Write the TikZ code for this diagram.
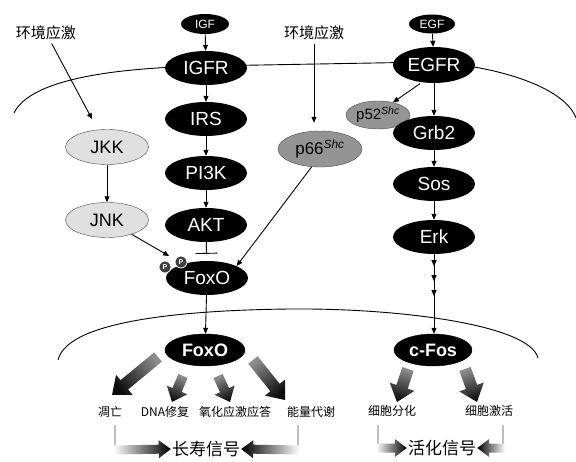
\documentclass[tikz,border=0pt]{standalone}
\usepackage{fontspec}
\setmainfont{Liberation Sans}
\newfontfamily\cjk{Noto Sans CJK SC}
\usetikzlibrary{shapes.geometric,arrows.meta,decorations.markings,calc}
% #1 shade options, #2 name, #3 tail, #4 tip, #5 body half width, #6 head half width, #7 head length
\newcommand\fatar[7]{%
  \coordinate (#2-t) at #3;
  \coordinate (#2-h) at #4;
  \coordinate (#2-q) at ($(#2-h)!#7!(#2-t)$);
  \path let \p1=($(#2-h)-(#2-t)$) in \pgfextra{\pgfmathsetmacro\fatang{atan2(\y1,\x1)+90}\global\let\fatang\fatang};
  \path[#1, shading angle=\fatang] ($(#2-t)!#5!90:(#2-h)$) -- ($(#2-q)!#5!90:(#2-h)$) -- ($(#2-q)!#6!90:(#2-h)$) -- (#2-h)
     -- ($(#2-q)!#6!-90:(#2-h)$) -- ($(#2-q)!#5!-90:(#2-h)$) -- ($(#2-t)!#5!-90:(#2-h)$) -- cycle;}
\begin{document}
\begin{tikzpicture}[x=1pt,y=-1pt,
  blk/.style={ellipse, fill=black, text=white, minimum width=82pt, minimum height=34pt, inner sep=0pt, font=\fontsize{19}{19}\selectfont},
  lgt/.style={ellipse, draw=black!70, fill=black!12, text=black, minimum width=83pt, minimum height=35pt, inner sep=0pt, font=\fontsize{18}{18}\selectfont},
  gry/.style={ellipse, draw=black!70, fill=black!42, text=black, inner sep=0pt, font=\fontsize{17}{17}\selectfont},
  nuc/.style={ellipse, draw=black, top color=black, middle color=black!30, bottom color=black, text=white, minimum width=80pt, minimum height=32pt, inner sep=0pt, font=\bfseries\fontsize{18}{18}\selectfont},
  arr/.style={-{Triangle[length=6pt,width=5pt]}, line width=0.9pt},
  fatshade/.style={left color=black!45, right color=black!95},
  brkshade/.style={left color=white, right color=black},
  zh/.style={font=\cjk\fontsize{12}{12}\selectfont, inner sep=1pt},
  zhb/.style={font=\cjk\fontsize{17}{17}\selectfont, inner sep=1pt},
  pcirc/.style={circle, draw=white, line width=0.8pt, fill=black!75, text=white, inner sep=0pt, minimum size=12pt, font=\bfseries\fontsize{7}{7}\selectfont}
]
\fill[white] (0,0) rectangle (576,462);
\useasboundingbox (0,0) rectangle (576,462);

% membranes
\draw[line width=0.9pt] (14,113) .. controls (30,80) and (110,68) .. (205,66) -- (430,62) .. controls (500,66) and (565,88) .. (576,118);
\draw[line width=0.9pt] (58,360) .. controls (68,318) and (200,310) .. (290,309) .. controls (400,308) and (530,325) .. (538,358);

% IGF pathway
\node[blk, minimum width=48pt, minimum height=20pt, font=\fontsize{12}{12}\selectfont] (igf) at (205,24) {IGF};
\node[blk] (igfr) at (206,68) {IGFR};
\node[blk] (irs) at (206,119) {IRS};
\node[blk] (pik) at (206,173) {PI3K};
\node[blk] (akt) at (206,225) {AKT};
\node[blk] (foxo) at (207,278) {FoxO};

% JNK branch
\node[font=\cjk\fontsize{15}{15}\selectfont] (env1) at (46,33) {环境应激};
\node[lgt] (jkk) at (107,147) {JKK};
\node[lgt] (jnk) at (107,220) {JNK};

% p66
\node[font=\cjk\fontsize{15}{15}\selectfont] (env2) at (314,33) {环境应激};
\node[gry, minimum width=84pt, minimum height=36pt] (p66) at (320,149) {p66\textsuperscript{\itshape Shc}};

% EGF pathway
\node[blk, minimum width=46pt, minimum height=19pt, font=\fontsize{12}{12}\selectfont] (egf) at (432,24) {EGF};
\node[blk, minimum height=36pt] (egfr) at (434,65) {EGFR};
\node[gry, minimum width=64pt, minimum height=28pt, font=\fontsize{15}{15}\selectfont] (p52) at (378,115) {p52\textsuperscript{\itshape Shc}};
\node[blk] (grb) at (434,133) {Grb2};
\node[blk] (sos) at (434,184) {Sos};
\node[blk] (erk) at (434,237) {Erk};

% nucleus
\node[nuc] (nfoxo) at (205,350) {FoxO};
\node[nuc, minimum width=78pt] (cfos) at (433,350) {c-Fos};

% P circles
\node[pcirc] (p1) at (165,267) {P};
\node[pcirc] (p2) at (181,262) {P};

% connectors
\draw[arr] (igf) -- (igfr);
\draw[arr] (igfr) -- (irs);
\draw[arr] (irs) -- (pik);
\draw[arr] (pik) -- (akt);
\draw[line width=0.9pt, -{Bar[width=22pt]}, shorten >=7pt] (akt) -- (foxo);
\draw[arr, shorten >=12pt] (env1) -- (jkk);
\draw[arr] (jkk) -- (jnk);
\draw[arr, shorten >=16pt] (jnk) -- (foxo);
\draw[arr, shorten >=8pt] (env2) -- (env2 |- p66.north);
\draw[arr] (p66.245) -- (foxo.22);
\draw[arr] (egf) -- (egfr);
\draw[arr, shorten <=2pt] (egfr.235) -- (p52.40);
\draw[arr] (egfr.south -| grb) -- (grb);
\draw[arr] (grb) -- (sos);
\draw[arr] (sos) -- (erk);
\draw[arr, decoration={markings,
   mark=at position 12pt with {\arrow{Triangle[length=6pt,width=5pt]}},
   mark=at position 27pt with {\arrow{Triangle[length=6pt,width=5pt]}},
   mark=at position 42pt with {\arrow{Triangle[length=6pt,width=5pt]}}}, postaction={decorate}]
   (erk.south) -- (erk.south |- cfos.north);
\draw[arr] (foxo) -- (nfoxo);

% outputs
\node[zh] (apo) at (110,412) {凋亡};
\node[zh] (dna) at (165,412) {DNA修复};
\node[zh] (oxi) at (235,412) {氧化应激应答};
\node[zh] (ene) at (311,412) {能量代谢};
\node[zh] (dif) at (392,411) {细胞分化};
\node[zh] (act) at (489,411) {细胞激活};

\fatar{fatshade}{fa1}{(158,357)}{(112,395)}{6pt}{13pt}{16pt}
\fatar{fatshade}{fa2}{(183,376)}{(172,402)}{5pt}{11pt}{13pt}
\fatar{fatshade}{fa3}{(218,376)}{(230,402)}{5pt}{11pt}{13pt}
\fatar{fatshade}{fa4}{(253,360)}{(285,400)}{6pt}{13pt}{16pt}
\fatar{fatshade}{fb1}{(408,369)}{(397,402)}{6pt}{13pt}{16pt}
\fatar{fatshade}{fb2}{(465,369)}{(477,402)}{6pt}{13pt}{16pt}

% signals
\node[zhb] (lon) at (206,449) {长寿信号};
\node[zhb] (acs) at (442,448) {活化信号};
\draw[black!25, line width=1.2pt] (115,425) -- (115,447);
\draw[black!25, line width=1.2pt] (298,425) -- (298,447);
\draw[black!25, line width=1.2pt] (378,425) -- (378,447);
\draw[black!25, line width=1.2pt] (503,425) -- (503,447);
\fatar{brkshade}{ba1}{(113,450)}{(lon.west)}{4.5pt}{9pt}{12pt}
\fatar{brkshade}{ba2}{(300,450)}{(lon.east)}{4.5pt}{9pt}{12pt}
\fatar{brkshade}{ba3}{(376,448)}{(acs.west)}{4.5pt}{9pt}{12pt}
\fatar{brkshade}{ba4}{(505,448)}{(acs.east)}{4.5pt}{9pt}{12pt}
\end{tikzpicture}
\end{document}
